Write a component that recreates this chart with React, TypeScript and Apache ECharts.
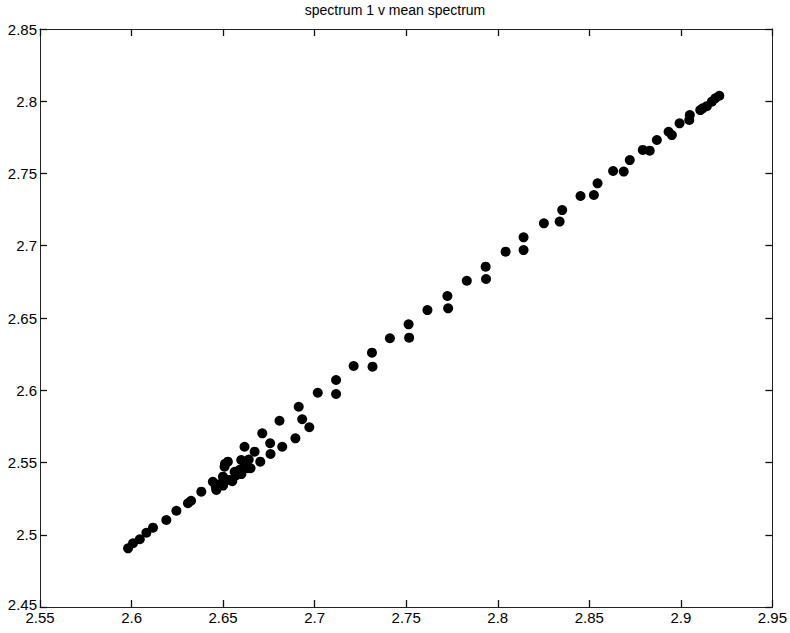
import React, { useEffect, useRef } from "react";
import * as echarts from "echarts";

const title = "spectrum 1 v mean spectrum";
const xRange = [2.55, 2.95];
const yRange = [2.45, 2.85];
const tickStep = 0.05;

// mean spectrum (x) values
const xValues = [
  2.5981, 2.6008, 2.6045, 2.6081, 2.6117, 2.619, 2.6245, 2.6308, 2.6325,
  2.6381, 2.6444, 2.6463, 2.6499, 2.6535, 2.6508, 2.6563, 2.6526, 2.6599,
  2.6635, 2.6703, 2.6759, 2.6672, 2.6617, 2.6895, 2.6823, 2.6757, 2.6714,
  2.6971, 2.6932, 2.6808, 2.6913,
  2.646, 2.648, 2.650, 2.652, 2.655, 2.657, 2.659, 2.662, 2.664, 2.651, 2.66, 2.665,
  2.7017, 2.7117, 2.7117, 2.7213, 2.7313, 2.7316, 2.7411, 2.7513, 2.7516,
  2.7616, 2.7725, 2.7729, 2.7831, 2.7934, 2.7936, 2.8043, 2.8141, 2.8141,
  2.8252, 2.8338, 2.8352, 2.8452, 2.8525, 2.8545, 2.863, 2.8688, 2.8721,
  2.8792, 2.883, 2.8869, 2.8933, 2.8951, 2.8993, 2.9046, 2.9049, 2.9106,
  2.9119, 2.9142, 2.9169, 2.9188, 2.921,
];

// spectrum 1 (y) values
const yValues = [
  2.4906, 2.4941, 2.4969, 2.5014, 2.5049, 2.5102, 2.5166, 2.5218, 2.5235,
  2.5298, 2.5367, 2.531, 2.5402, 2.5379, 2.5471, 2.5436, 2.5506, 2.5517,
  2.546, 2.5506, 2.5559, 2.5575, 2.5609, 2.5667, 2.5609, 2.5633, 2.5702,
  2.5744, 2.5799, 2.5789, 2.5886,
  2.533, 2.535, 2.534, 2.538, 2.537, 2.541, 2.545, 2.548, 2.552, 2.549, 2.542, 2.546,
  2.5983, 2.6071, 2.5974, 2.6168, 2.626, 2.6163, 2.636, 2.6456, 2.6364,
  2.6555, 2.6652, 2.6567, 2.6758, 2.6855, 2.677, 2.6959, 2.7058, 2.697,
  2.7155, 2.7167, 2.7247, 2.7344, 2.7351, 2.7432, 2.7517, 2.7513, 2.7593,
  2.7663, 2.7658, 2.7732, 2.7789, 2.7766, 2.7847, 2.787, 2.7905, 2.7939,
  2.7951, 2.7966, 2.7997, 2.802, 2.8038,
];

export default function App() {
  const ref = useRef<HTMLDivElement>(null);
  useEffect(() => {
    document.body.style.margin = "0";
    if (!ref.current) return;
    const chart = echarts.init(ref.current, null, { renderer: "svg" });
    const font = "Liberation Sans";
    const mkTick = () => ({ show: true, inside: true, length: 7, lineStyle: { color: "#111", width: 1.3 } });
    chart.setOption({
      animation: false,
      graphic: [
        {
          type: "text",
          left: "center",
          top: 3,
          style: { text: title, font: "14px Liberation Sans", fill: "#000" },
        },
      ],
      grid: { left: 40, right: 16, top: 29, bottom: 26 },
      xAxis: [
        { type: "value", min: xRange[0], max: xRange[1], interval: tickStep, axisLine: { show: true, lineStyle: { color: "#222" } }, axisTick: mkTick(), splitLine: { show: false }, axisLabel: { fontFamily: font, fontSize: 15, color: "#000", margin: 3 } },
        { type: "value", position: "top", min: xRange[0], max: xRange[1], interval: tickStep, axisLine: { show: true, lineStyle: { color: "#222" } }, axisTick: mkTick(), axisLabel: { show: false }, splitLine: { show: false } },
      ],
      yAxis: [
        { type: "value", min: yRange[0], max: yRange[1], interval: tickStep, axisLine: { show: true, lineStyle: { color: "#222" } }, axisTick: mkTick(), splitLine: { show: false }, axisLabel: { fontFamily: font, fontSize: 15, color: "#000", margin: 3, formatter: (v: number) => (Math.abs(v - yRange[0]) < 1e-9 ? "{low|" + v + "}" : String(+v.toFixed(2))), rich: { low: { fontFamily: font, fontSize: 15, color: "#000", padding: [0, 0, 6, 0] } } } },
        { type: "value", position: "right", min: yRange[0], max: yRange[1], interval: tickStep, axisLine: { show: true, lineStyle: { color: "#222" } }, axisTick: mkTick(), axisLabel: { show: false }, splitLine: { show: false } },
      ],
      series: [
        {
          type: "scatter",
          symbolSize: 10,
          itemStyle: { color: "#000", opacity: 1 },
          data: xValues.map((x, i) => [x, yValues[i]]),
        },
      ],
    });
    return () => chart.dispose();
  }, []);
  return <div ref={ref} style={{ width: 790, height: 633 }} />;
}
